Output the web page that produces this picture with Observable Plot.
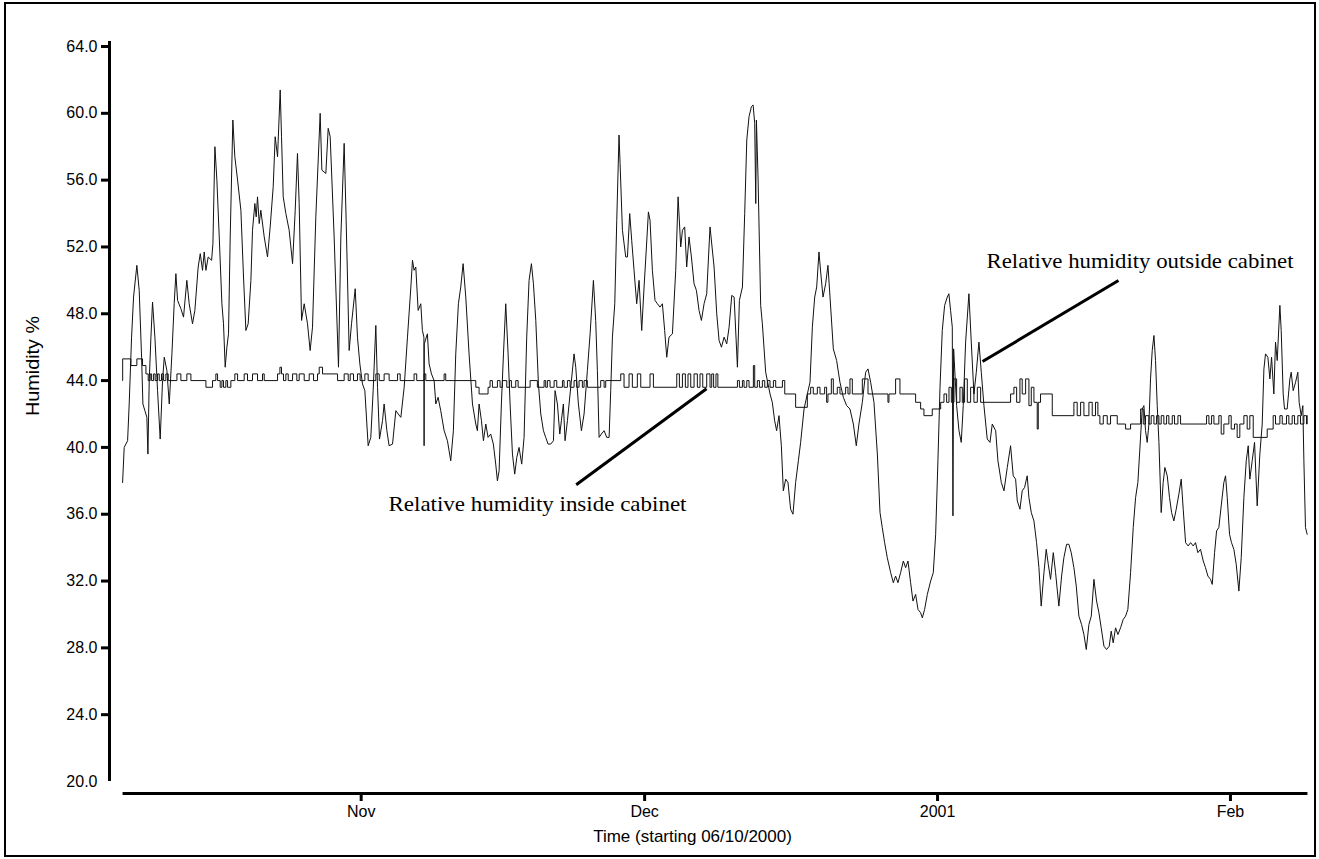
<!DOCTYPE html>
<html><head><meta charset="utf-8">
<script src="https://cdn.jsdelivr.net/npm/d3@7"></script>
<script src="https://cdn.jsdelivr.net/npm/@observablehq/plot@0.6"></script>
<style>
html,body{margin:0;padding:0;background:#fff;}
#wrap{position:relative;width:1319px;height:859px;overflow:hidden;background:#fff;}
#frame{position:absolute;left:4px;top:2px;width:1308px;height:851px;border:2.5px solid #000;pointer-events:none;}
svg{display:block;}
</style></head><body>
<div id="wrap"><div id="chart"></div><div id="frame"></div></div>
<script>
// Time axis: days since 06/10/2000 (UTC)
const outsideDay = [0.75,0.92,1.28,1.45,1.70,1.91,2.26,2.51,2.76,2.90,3.11,3.32,3.43,3.57,3.75,3.92,4.17,4.45,4.73,4.98,5.16,5.44,5.69,5.97,6.21,6.39,6.57,6.92,7.20,7.55,7.80,8.15,8.40,8.75,8.97,9.21,9.39,9.57,9.81,10.17,10.31,10.52,10.73,10.98,11.26,11.43,11.61,11.79,11.96,12.14,12.42,12.63,12.92,13.27,13.55,13.80,14.04,14.33,14.50,14.75,14.89,15.03,15.21,15.38,15.74,16.09,16.37,16.69,16.90,17.15,17.43,17.57,17.75,18.03,18.38,18.74,19.02,19.26,19.44,19.69,19.97,20.32,20.60,20.85,21.20,21.66,21.84,22.26,22.51,22.72,23.14,23.60,23.85,24.20,24.41,24.73,24.98,25.37,25.61,25.86,26.14,26.39,26.74,27.02,27.27,27.55,27.73,27.94,28.26,28.43,28.72,28.96,29.32,29.67,29.92,30.20,30.55,30.90,31.26,
31.43,31.60,31.78,32.03,32.31,32.48,32.64,32.66,32.68,33.01,33.19,33.44,33.72,33.90,34.14,34.42,34.78,35.13,35.48,35.76,36.01,36.29,36.54,36.79,37.07,37.42,37.78,38.13,38.30,38.48,38.73,38.94,39.19,39.43,39.71,39.99,40.24,40.42,40.60,40.84,41.06,41.30,41.55,41.76,42.01,42.25,42.47,42.71,42.99,43.24,43.52,43.77,44.02,44.23,44.48,44.76,45.01,45.29,45.53,45.78,46.06,46.35,46.52,46.77,47.02,47.19,47.40,47.58,47.83,48.18,48.53,48.71,48.99,49.31,49.59,49.94,50.23,50.58,50.82,51.00,51.18,51.42,51.71,51.99,52.24,52.41,52.59,52.84,53.05,53.29,53.40,53.65,54.00,54.18,54.42,54.63,54.88,55.16,55.41,55.69,55.94,56.19,56.40,56.57,56.82,57.10,57.35,57.63,57.88,58.12,58.34,58.58,58.94,59.29,59.54,59.82,60.00,60.24,60.45,60.70,60.95,61.23,61.48,61.76,62.01,62.29,62.57,62.92,
63.35,63.63,63.88,64.13,64.41,64.69,64.94,65.22,65.47,65.82,66.03,66.35,66.59,66.81,67.05,67.30,67.48,67.65,67.76,67.83,68.01,68.28,68.46,68.81,69.27,69.51,69.76,69.97,70.22,70.47,70.68,70.93,71.17,71.45,71.70,71.98,72.27,72.51,72.87,73.22,73.50,73.75,74.00,74.21,74.45,74.63,74.88,75.16,75.40,75.62,75.97,76.32,76.67,77.03,77.38,77.73,78.09,78.40,78.68,79.04,79.39,79.64,79.92,80.27,80.63,80.91,81.15,81.40,81.68,82.04,82.32,82.56,82.81,83.09,83.38,83.62,83.87,84.15,84.40,84.68,84.93,85.21,85.39,85.63,85.92,86.27,86.55,86.80,87.04,87.26,87.50,87.75,88.03,88.20,88.38,88.56,88.63,88.70,89.02,89.27,89.51,89.72,89.97,90.32,90.57,90.85,91.10,91.38,91.63,91.91,92.26,92.55,92.79,93.15,93.39,93.75,94.03,94.38,94.73,
95.01,95.26,95.44,95.72,95.96,96.21,96.49,96.67,96.92,97.20,97.48,97.73,97.97,98.26,98.50,98.72,98.96,99.25,99.49,99.84,100.13,100.37,100.66,100.90,101.15,101.43,101.68,101.96,102.24,102.49,102.74,103.02,103.27,103.55,103.83,104.08,104.32,104.61,104.89,105.17,105.38,105.59,105.84,106.09,106.37,106.65,106.90,107.14,107.43,107.71,107.96,108.20,108.41,108.66,108.84,109.01,109.19,109.37,109.54,109.72,109.90,110.07,110.25,110.43,110.67,110.88,111.06,111.31,111.55,111.77,112.01,112.26,112.54,112.79,113.00,113.25,113.53,113.78,114.06,114.30,114.55,114.83,115.12,115.36,115.61,115.89,116.07,116.32,116.53,116.77,117.02,117.30,117.48,117.66,117.90,118.11,118.36,118.61,118.89,119.14,119.42,119.67,119.88,120.05,120.30,120.55,120.83,121.11,121.36,121.54,121.71,121.96,122.17,122.35,122.59,122.77,122.95,123.23,123.37,123.58,123.72,124.00,124.29,124.43,124.64,124.89,125.13,125.27,125.49,125.66,125.77,125.94,126.12];
const outsideRH = [37.9,40.0,40.4,42.6,46.6,49.0,50.9,49.4,45.4,42.6,42.2,41.8,39.6,44.0,46.6,48.7,46.6,43.4,40.5,44.0,45.4,44.6,42.6,45.6,48.6,50.4,48.8,48.3,47.8,50.0,48.6,47.4,48.2,50.8,51.6,50.6,51.7,50.6,51.4,51.2,52.2,58.0,56.0,52.6,48.6,47.4,44.8,46.0,46.8,52.6,59.6,57.4,56.0,54.2,50.2,47.0,47.4,50.0,53.0,54.6,53.8,55.0,53.4,54.2,52.6,51.4,53.2,55.6,58.6,57.4,61.4,58.6,55.0,54.0,53.0,51.0,54.2,57.6,54.6,47.6,48.6,47.4,45.8,47.2,53.8,60.0,56.6,56.4,59.1,58.6,52.6,44.8,52.6,58.2,53.6,45.8,47.4,49.5,46.6,45.0,43.8,43.4,40.1,40.6,43.4,47.3,43.6,40.5,41.6,42.6,41.0,40.1,40.2,42.2,42.0,41.8,43.6,46.6,49.6,
51.2,50.6,50.8,48.2,48.6,47.0,46.6,40.1,46.2,46.8,45.0,44.4,44.0,42.6,43.0,42.2,41.0,40.4,39.2,41.0,45.6,48.6,49.6,51.0,49.0,45.6,42.6,41.4,41.0,42.6,41.6,40.4,41.4,40.6,40.8,40.2,39.0,38.0,38.6,42.6,45.6,48.6,45.6,42.6,39.6,38.4,39.4,40.0,39.0,40.6,46.6,50.0,51.0,49.8,47.6,43.8,42.0,41.0,40.6,40.2,40.2,40.4,43.4,42.6,40.8,41.6,42.6,40.4,41.6,43.6,45.6,44.8,42.6,41.0,42.0,44.6,46.8,50.0,47.6,44.6,40.6,40.8,41.0,40.6,40.6,43.4,46.6,48.6,53.6,58.7,57.0,53.0,51.4,51.4,54.0,52.4,50.6,48.6,50.0,47.0,49.6,52.0,54.1,53.6,50.6,48.8,48.6,48.4,48.6,47.0,45.4,46.6,46.8,50.6,55.0,52.0,53.0,53.2,50.8,52.6,51.4,49.8,49.4,48.2,47.6,48.6,49.2,53.2,
50.8,48.0,46.4,46.0,46.6,46.2,47.2,49.1,49.0,44.8,48.8,49.6,54.0,58.4,59.8,60.4,60.5,59.4,54.6,59.6,56.0,48.5,47.4,44.5,43.2,42.7,41.6,41.0,41.9,40.1,37.4,38.1,37.9,36.3,36.0,37.9,39.2,40.3,42.3,43.2,43.9,47.2,49.0,49.6,51.7,50.5,49.0,49.8,50.9,49.0,45.9,45.2,43.9,43.0,42.5,42.3,41.4,40.1,41.4,42.7,44.5,44.7,43.9,42.7,39.6,36.1,35.2,34.3,33.4,32.5,31.9,32.3,31.9,32.5,33.2,32.8,33.2,31.9,30.8,31.2,30.3,30.1,29.8,30.3,31.2,32.0,32.5,34.8,39.2,43.6,47.0,48.5,49.0,49.2,48.2,47.2,35.9,45.9,42.5,41.0,40.3,42.5,46.3,49.2,46.3,43.2,44.5,46.3,44.5,42.5,40.5,40.3,41.4,41.0,39.2,37.9,37.4,38.8,40.1,
38.3,38.1,36.8,36.3,37.4,37.6,38.3,37.0,36.1,35.6,34.3,32.8,30.5,32.5,33.9,33.0,32.1,33.7,32.5,30.5,32.3,33.4,34.2,34.2,33.7,32.8,31.7,29.9,29.4,28.8,27.9,29.4,29.9,32.1,30.8,30.1,29.2,28.1,27.9,28.1,29.0,28.3,29.2,28.8,29.2,29.7,29.9,30.3,32.5,35.2,37.0,37.9,39.9,42.3,42.5,41.0,40.3,41.4,44.1,45.8,46.7,45.2,42.5,40.3,36.1,37.9,38.8,38.3,37.0,36.1,35.6,36.3,37.2,38.1,36.3,34.3,34.1,34.3,34.1,34.3,33.7,33.9,33.2,32.8,32.3,32.1,31.8,33.7,35.0,35.2,36.5,37.9,38.3,37.0,34.8,34.3,33.9,33.0,31.4,33.4,37.0,39.2,40.1,38.1,39.2,40.3,36.5,39.6,41.4,44.7,45.6,45.4,44.1,45.4,43.2,46.3,45.2,48.5,47.0,43.2,42.3,42.3,44.1,44.5,43.4,43.9,44.5,42.7,41.9,42.5,39.2,35.2,34.8];

const insideDay = [0.75,0.76,1.63,2.26,2.86,3.22,3.46,3.67,3.82,4.03,4.20,4.45,4.63,4.87,5.09,5.33,5.58,6.50,6.92,7.55,7.98,9.57,10.27,10.62,10.80,11.08,11.26,11.43,11.68,11.86,12.21,12.63,12.92,13.62,13.97,14.50,15.03,15.56,15.74,17.15,17.40,17.57,17.78,18.03,18.28,18.74,19.19,19.44,19.97,20.50,20.96,21.38,21.56,21.91,23.50,24.20,24.63,24.84,25.19,25.61,25.89,26.39,26.74,27.55,27.91,28.43,28.96,29.85,30.13,31.60,31.88,32.66,32.84,34.78,34.95,38.13,38.48,39.43,39.64,39.89,40.42,40.70,40.95,41.41,41.69,41.90,42.36,42.61,43.88,44.65,45.36,45.53,45.71,45.99,46.42,46.70,47.30,47.47,47.83,48.11,48.53,48.81,49.06,49.41,49.59,49.94,51.35,51.71,51.88,53.47,53.82,54.35,54.70,55.23,55.59,56.57,56.93,59.40,59.68,60.00,60.31,60.59,60.88,61.23,61.58,61.86,62.15,62.57,62.92,63.10,63.30,63.55,63.75,65.82,66.03,66.35,66.52,66.81,67.05,67.51,67.65,67.93,68.15,68.46,68.71,68.99,69.27,69.63,69.87,70.58,70.83,71.98,73.22,73.57,73.85,74.28,74.56,75.05,75.26,75.40,75.76,75.97,76.39,76.67,77.27,77.52,77.73,77.98,79.04,79.64,81.75,81.86,82.56,83.02,84.68,85.21,85.56,86.44,87.33,87.68,87.96,88.21,88.46,88.74,89.02,89.37,89.62,89.86,90.15,90.50,90.85,91.21,91.56,94.73,95.08,95.37,95.72,95.96,96.32,96.67,96.92,97.20,97.55,97.66,97.90,99.14,101.43,101.78,102.14,102.49,103.02,103.37,103.72,103.97,104.18,104.54,104.96,105.31,106.02,106.90,107.43,108.49,108.77,109.01,109.37,109.61,109.90,110.18,110.43,110.67,110.95,111.24,111.48,111.84,112.08,112.44,112.72,115.47,115.72,116.00,116.25,116.77,117.02,117.30,117.83,118.08,118.43,118.71,118.99,119.42,119.77,120.05,120.41,121.89,122.52,122.77,123.23,123.48,123.93,124.18,124.53,124.78,125.13,125.41,125.77,126.05,126.12];
const insideRH = [44.0,45.3,44.9,45.3,44.9,44.4,44.0,44.4,44.0,44.4,44.0,44.4,44.0,44.4,44.0,44.4,44.0,44.4,44.0,44.4,44.0,43.6,44.0,44.4,44.0,43.6,44.0,43.6,44.0,43.6,44.0,44.4,44.0,44.4,44.0,44.4,44.0,44.4,44.0,44.4,44.8,44.4,44.0,44.4,44.0,44.4,44.0,44.4,44.0,44.4,44.0,44.4,44.8,44.4,44.0,44.4,44.0,44.4,44.0,44.4,44.0,44.4,44.0,44.4,44.0,44.4,44.0,44.4,44.0,44.4,44.0,44.4,44.0,44.4,44.0,43.6,43.2,43.6,44.0,43.6,44.0,43.6,44.0,43.6,44.0,43.6,44.0,43.6,44.0,43.6,44.0,43.6,44.0,43.6,44.0,43.6,44.0,43.6,44.0,43.6,44.0,43.6,44.0,43.6,44.0,43.6,44.0,43.6,44.0,44.4,43.6,44.4,43.6,44.4,43.6,44.4,43.6,44.4,43.6,44.4,43.6,44.4,43.6,44.4,43.6,44.4,43.6,44.4,43.6,44.4,43.6,44.4,43.6,44.0,43.6,44.0,43.6,44.0,43.6,44.9,43.6,44.0,43.6,44.0,43.6,44.0,43.6,44.0,43.6,44.0,43.2,42.4,43.2,43.6,43.2,43.6,43.2,43.6,42.7,43.2,44.1,43.2,43.6,43.2,43.6,43.2,44.1,43.2,44.1,43.2,42.7,43.2,44.1,43.2,42.7,42.3,41.9,42.3,42.7,43.2,42.7,43.6,42.7,44.1,42.7,43.6,42.7,44.1,42.7,43.6,42.7,43.6,42.7,43.2,43.6,42.7,44.1,43.2,44.1,42.5,43.6,42.7,41.1,42.7,43.2,41.9,42.7,41.9,42.7,41.9,42.7,41.9,42.7,41.9,41.4,41.9,41.4,41.9,41.4,41.1,41.4,42.3,41.4,41.9,41.4,41.9,41.4,41.9,41.4,41.9,41.4,41.9,41.4,41.9,41.4,41.9,41.4,41.9,41.4,41.9,41.4,41.9,40.8,41.4,41.9,41.1,41.4,40.6,41.4,41.9,41.1,41.9,40.6,41.1,41.9,41.4,41.9,41.4,41.9,41.4,41.9,41.4,41.9,41.4,41.9,41.4,41.9,41.4,41.4];

const xTickDates = ["2000-11-01","2000-12-01","2001-01-01","2001-02-01"];
const xTickLabels = ["Nov","Dec","2001","Feb"];
const yTicks = [20,24,28,32,36,40,44,48,52,56,60,64];

const labelTexts = ["Relative humidity outside cabinet","Relative humidity inside cabinet"];
const labelDay = [92.18, 28.89];
const labelRH = [51.15, 36.58];
const leaderFromDay = [91.76, 48.76];
const leaderFromRH = [45.14, 37.76];
const leaderToDay = [106.15, 62.55];
const leaderToRH = [49.99, 43.51];

const xTitle = "Time (starting 06/10/2000)";
const yTitle = "Humidity %";

const start = Date.UTC(2000, 9, 6);
const toDate = d => new Date(start + d * 86400000);
const outside = outsideDay.map((d, i) => ({t: toDate(d), v: outsideRH[i]}));
const inside = insideDay.map((d, i) => ({t: toDate(d), v: insideRH[i]}));
const labels = labelTexts.map((s, i) => ({s, t: toDate(labelDay[i]), v: labelRH[i]}));
const leaders = leaderFromDay.map((d, i) => ({t1: toDate(d), v1: leaderFromRH[i], t2: toDate(leaderToDay[i]), v2: leaderToRH[i]}));
const tickDates = xTickDates.map(s => new Date(s + "T00:00:00Z"));

const chart = Plot.plot({
  width: 1319, height: 859,
  marginLeft: 115, marginRight: 4, marginTop: 46, marginBottom: 78,
  style: {fontFamily: "'Liberation Sans', Arial, sans-serif", background: "transparent", color: "#000"},
  x: {type: "utc", domain: [toDate(0), toDate(127)]},
  y: {domain: [20, 64]},
  marks: [
    Plot.axisY({ticks: yTicks.filter(v => v > 20), tickSize: 8, tickFormat: () => "", strokeWidth: 3, dx: -6, label: null}),
    Plot.axisY({ticks: yTicks, tickSize: 0, tickPadding: 12, tickFormat: d => d.toFixed(1), fontSize: 16, dx: -6, label: null}),
    Plot.ruleX([toDate(0)], {y1: 20, y2: 64.3, dx: -6, strokeWidth: 3, stroke: "#000"}),
    Plot.axisX({ticks: tickDates, tickSize: 8, tickPadding: 4, strokeWidth: 3, dy: 12, fontSize: 16, label: null,
      tickFormat: d => xTickLabels[tickDates.findIndex(t => +t === +d)]}),
    Plot.ruleY([20], {x1: toDate(0.8), x2: toDate(126.2), dy: 12, strokeWidth: 3, stroke: "#000"}),
    Plot.line(inside, {x: "t", y: "v", curve: "step-after", stroke: "#111", strokeWidth: 1}),
    Plot.line(outside, {x: "t", y: "v", stroke: "#111", strokeWidth: 1}),
    Plot.link(leaders, {x1: "t1", y1: "v1", x2: "t2", y2: "v2", stroke: "#000", strokeWidth: 3}),
    Plot.text(labels, {x: "t", y: "v", text: "s", textAnchor: "start", fontFamily: "'Liberation Serif', 'Times New Roman', serif", fontSize: 21, fill: "#000"}),
    Plot.text([xTitle], {frameAnchor: "bottom", dx: -23, dy: 60, fontSize: 17, fill: "#000"}),
    Plot.text([yTitle], {frameAnchor: "left", rotate: -90, dx: -82, dy: 2, fontSize: 18, fill: "#000"})
  ]
});
document.getElementById("chart").appendChild(chart);
// stretch annotation texts to the reference widths
const lengths = new Map([[labelTexts[0], 307], [labelTexts[1], 298], [yTitle, 100]]);
d3.select(chart).selectAll("text").each(function() {
  const L = lengths.get(this.textContent);
  if (L) { this.setAttribute("textLength", L); this.setAttribute("lengthAdjust", "spacingAndGlyphs"); }
});
</script>
</body></html>
